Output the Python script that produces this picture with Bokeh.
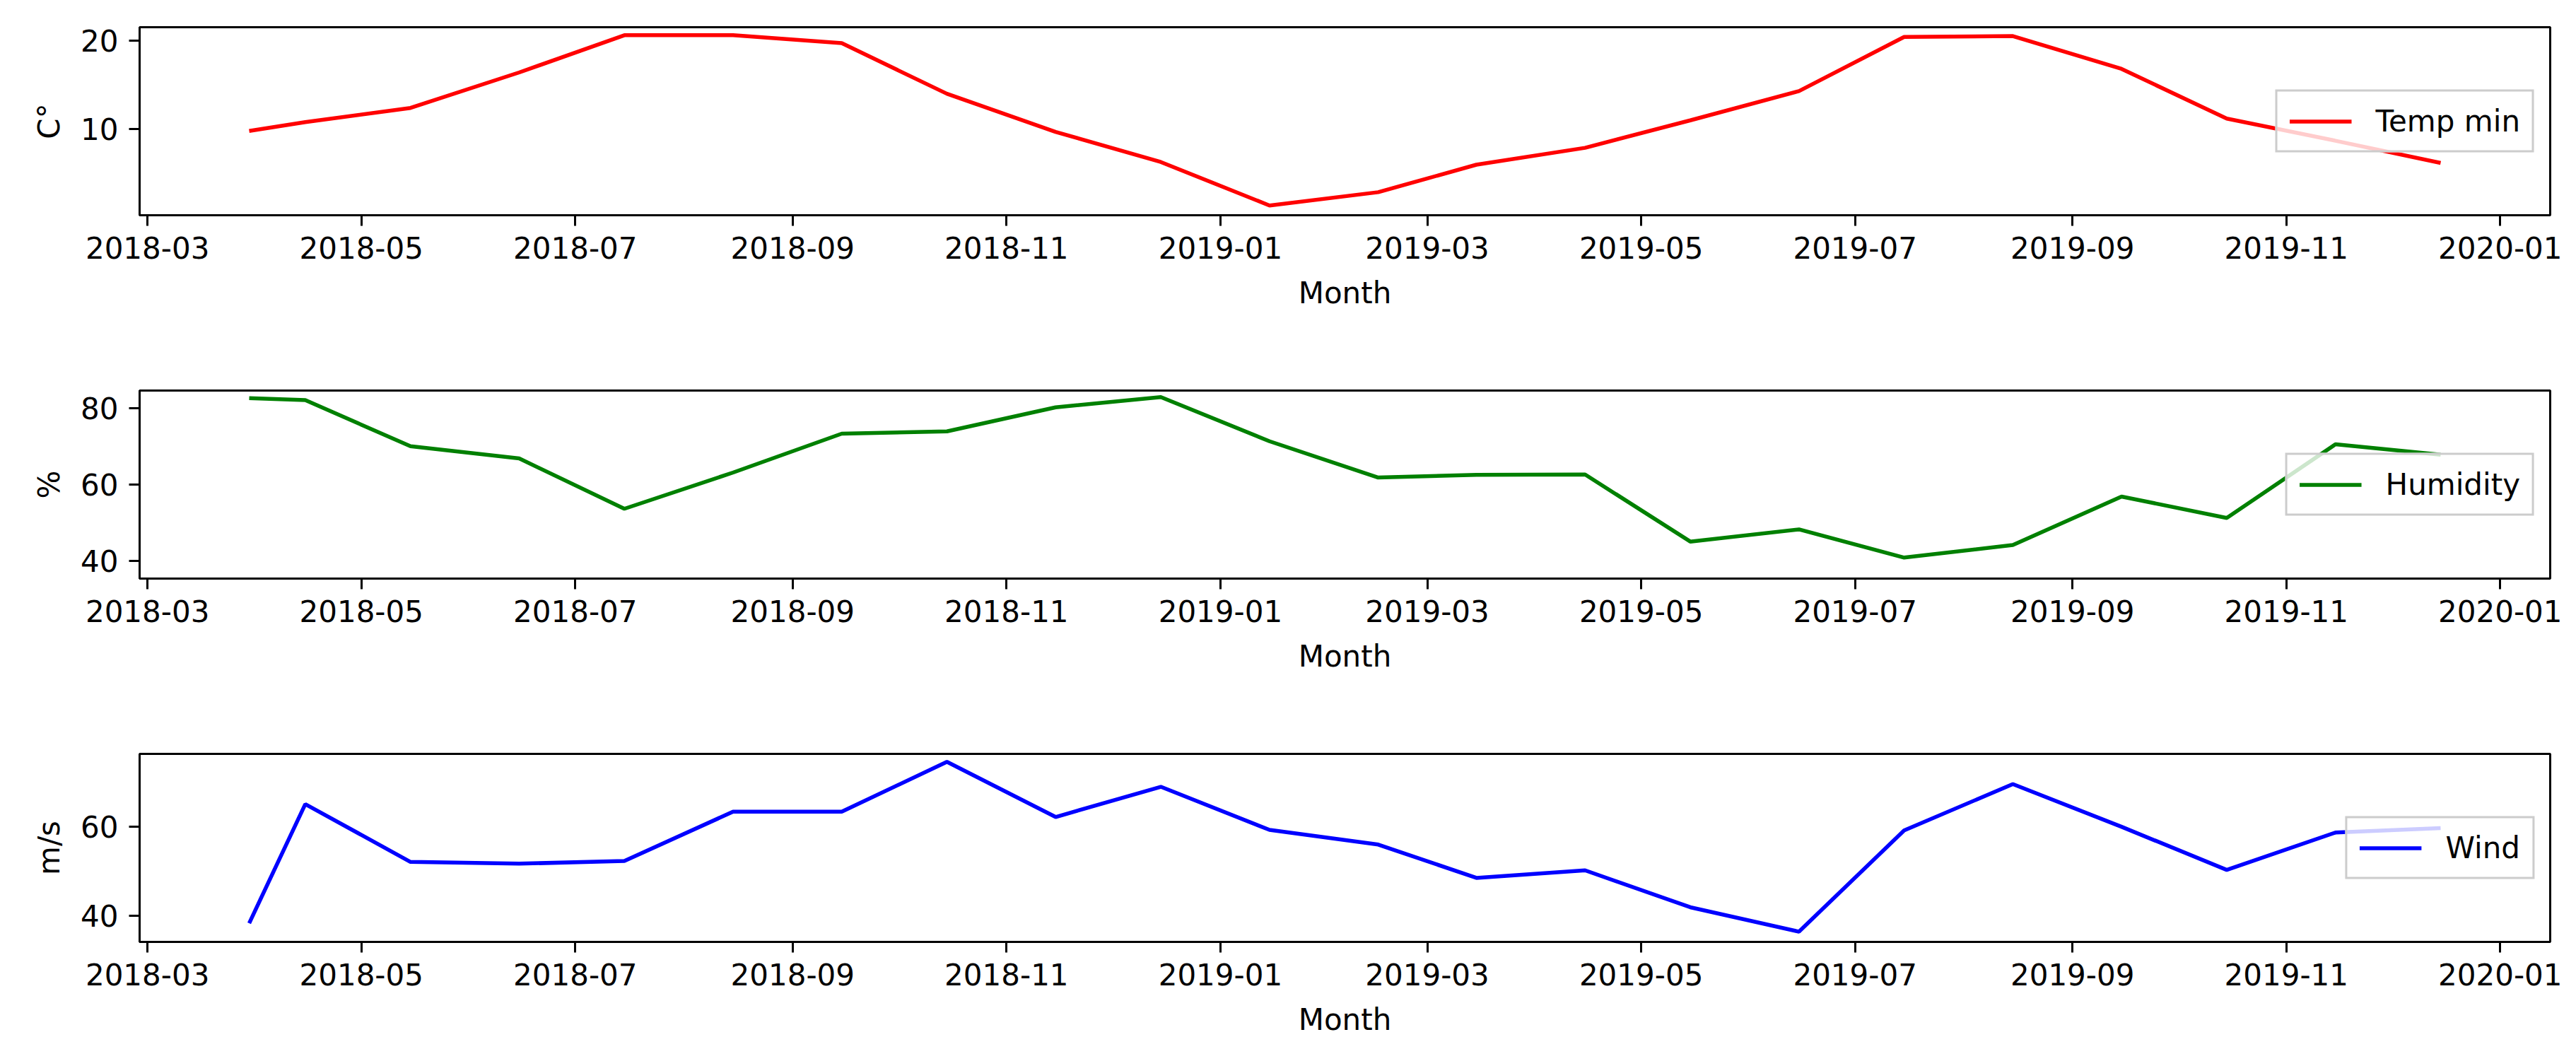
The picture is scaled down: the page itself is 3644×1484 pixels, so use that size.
import pandas as pd
from bokeh.plotting import figure
from bokeh.layouts import column
from bokeh.models import FixedTicker, DatetimeTickFormatter, Range1d
from bokeh.embed import file_html
from bokeh.resources import INLINE

# Monthly weather readings
months = [
    "2018-03-30", "2018-04-15", "2018-05-15", "2018-06-15", "2018-07-15",
    "2018-08-15", "2018-09-15", "2018-10-15", "2018-11-15", "2018-12-15",
    "2019-01-15", "2019-02-15", "2019-03-15", "2019-04-15", "2019-05-15",
    "2019-06-15", "2019-07-15", "2019-08-15", "2019-09-15", "2019-10-15",
    "2019-11-15", "2019-12-15",
]
temp_min = [9.8, 10.8, 12.4, 16.4, 20.6, 20.6, 19.7, 14.0, 9.7, 6.3, 1.4,
            2.9, 6.0, 7.9, 11.0, 14.3, 20.4, 20.5, 16.8, 11.2, 8.7, 6.2]
humidity = [82.7, 82.2, 70.1, 66.9, 53.7, 63.2, 73.4, 74.0, 80.3, 83.0, 71.4,
            61.9, 62.6, 62.7, 45.1, 48.3, 40.9, 44.2, 56.9, 51.3, 70.6, 67.9]
wind = [38.3, 65.1, 52.1, 51.7, 52.3, 63.4, 63.4, 74.6, 62.2, 69.0, 59.3,
        56.0, 48.5, 50.2, 41.9, 36.4, 59.2, 69.6, 60.0, 50.3, 58.7, 59.7]

x_tick_labels = ["2018-03", "2018-05", "2018-07", "2018-09", "2018-11",
                 "2019-01", "2019-03", "2019-05", "2019-07", "2019-09",
                 "2019-11", "2020-01"]
temp_ticks = [10, 20]
humidity_ticks = [40, 60, 80]
wind_ticks = [40, 60]

temp_limits = (0.3, 21.5)
humidity_limits = (35.4, 84.7)
wind_limits = (34.1, 76.4)

FONT = "DejaVu Sans"
FS = "42px"

dates = pd.to_datetime(months)
span = dates[-1] - dates[0]
x_start = (dates[0] - span * 0.05).to_pydatetime()
x_end = (dates[-1] + span * 0.05).to_pydatetime()
x_ticks_ms = [pd.Timestamp(s + "-01").timestamp() * 1000 for s in x_tick_labels]

FMT = "%Y-%m"


def panel(values, color, label, ylabel, limits, yticks, height, bottom):
    p = figure(width=3644, height=height, x_axis_type="datetime",
               output_backend="svg", toolbar_location=None,
               x_range=Range1d(x_start, x_end),
               y_range=Range1d(*limits),
               min_border_left=197, min_border_right=37,
               min_border_top=38, min_border_bottom=bottom)
    p.line(dates, values, line_color=color, line_width=5.5, legend_label=label)

    p.background_fill_color = "white"
    p.border_fill_color = "white"
    p.outline_line_color = "black"
    p.outline_line_width = 3
    p.outline_line_alpha = 1
    p.xgrid.visible = False
    p.ygrid.visible = False

    p.xaxis.ticker = FixedTicker(ticks=x_ticks_ms)
    p.xaxis.formatter = DatetimeTickFormatter(
        microseconds=FMT, milliseconds=FMT, seconds=FMT, minsec=FMT,
        minutes=FMT, hourmin=FMT, hours=FMT, days=FMT, months=FMT, years=FMT,
        strip_leading_zeros=False)
    p.yaxis.ticker = FixedTicker(ticks=yticks)
    p.xaxis.axis_label = "Month"
    p.yaxis.axis_label = ylabel

    for ax in (p.xaxis, p.yaxis):
        ax.axis_line_width = 3
        ax.axis_line_color = "black"
        ax.major_tick_line_width = 3
        ax.major_tick_line_color = "black"
        ax.major_tick_out = 15
        ax.major_tick_in = 0
        ax.minor_tick_line_color = None
        ax.major_label_standoff = 15
        ax.major_label_text_font = FONT
        ax.major_label_text_font_size = FS
        ax.major_label_text_color = "black"
        ax.axis_label_text_font = FONT
        ax.axis_label_text_font_size = FS
        ax.axis_label_text_font_style = "normal"
        ax.axis_label_text_color = "black"
    p.xaxis.axis_label_standoff = 21
    p.yaxis.axis_label_standoff = 17

    lg = p.legend[0]
    lg.location = "center_right"
    lg.margin = 22
    lg.padding = 17
    lg.spacing = 0
    lg.glyph_width = 88
    lg.glyph_height = 44
    lg.label_height = 44
    lg.label_standoff = 34
    lg.label_text_font = FONT
    lg.label_text_font_size = FS
    lg.label_text_color = "black"
    lg.border_line_color = "#cccccc"
    lg.border_line_width = 3
    lg.border_line_alpha = 1
    lg.background_fill_color = "white"
    lg.background_fill_alpha = 0.8
    return p


p1 = panel(temp_min, "#ff0000", "Temp min", "C°", temp_limits, temp_ticks, 514, 210)
p2 = panel(humidity, "#008000", "Humidity", "%", humidity_limits, humidity_ticks, 514, 210)
p3 = panel(wind, "#0000ff", "Wind", "m/s", wind_limits, wind_ticks, 456, 152)

layout = column(p1, p2, p3, spacing=0)
open("out.html", "w").write(file_html(layout, INLINE))
